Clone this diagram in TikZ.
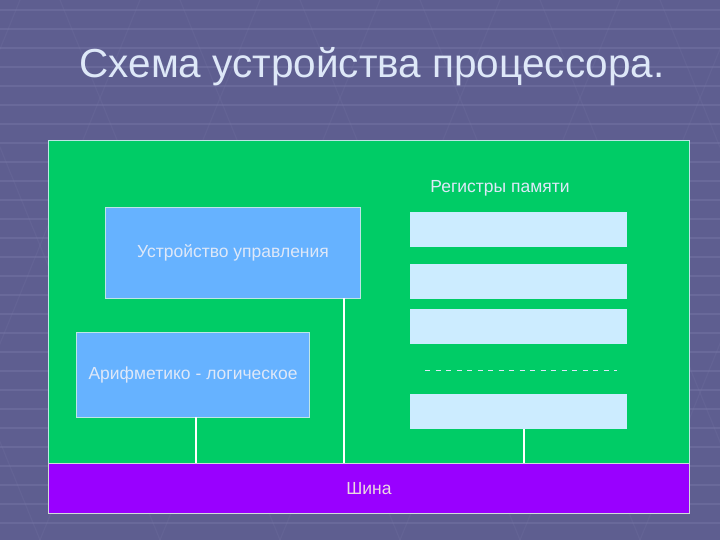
\documentclass[tikz,border=0pt]{standalone}
\usepackage{fontspec}
\setmainfont{Liberation Sans}
\definecolor{bgc}{RGB}{94,94,144}
\definecolor{bgl}{RGB}{120,120,168}
\definecolor{panel}{RGB}{0,204,102}
\definecolor{ublue}{RGB}{102,178,255}
\definecolor{reg}{RGB}{204,236,255}
\definecolor{bus}{RGB}{153,0,255}
\definecolor{ttl}{RGB}{222,232,248}
\definecolor{edge}{RGB}{190,230,230}
\tikzset{
  lbl/.style={text=ttl, font=\fontsize{17.5}{20}\selectfont},
  blk/.style={lbl, draw=edge, line width=1pt, fill=ublue, inner sep=0pt},
  regbox/.style={fill=reg, draw=none, inner sep=0pt, minimum width=217pt, minimum height=35pt},
  wire/.style={draw=white, line width=2pt}
}
\begin{document}
\begin{tikzpicture}[x=1pt,y=-1pt]
\fill[bgc] (0,0) rectangle (720,540);
\useasboundingbox (0,0) rectangle (720,540);
% background texture
\foreach \yy in {10,29,...,540} {\draw[bgl, line width=1.2pt, opacity=0.45] (0,\yy) -- (720,\yy);}
\foreach \xx in {-300,-180,...,900} {\draw[bgl, line width=1.2pt, opacity=0.2] (\xx,0) -- (\xx+220,540);}
\foreach \xx in {-100,20,...,1100} {\draw[bgl, line width=1.2pt, opacity=0.2] (\xx,0) -- (\xx-220,540);}
% title
\node[text=ttl, font=\fontsize{40.5}{46}\selectfont] (title) at (372,67) {Схема устройства процессора.};
% panel
\node[draw=edge, line width=1pt, fill=panel, minimum width=641pt, minimum height=323pt, inner sep=0pt, anchor=north west] (panel) at (48,140) {};
\node[draw=edge!70!pink, line width=1pt, fill=bus, minimum width=641pt, minimum height=50pt, inner sep=0pt, anchor=north west, lbl, text=ttl!60!pink] (bus) at (48,463) {Шина};
% blocks
\node[blk, minimum width=255pt, minimum height=91pt, anchor=north west] (cu) at (105,207) {Устройство управления};
\node[blk, minimum width=233pt, minimum height=85pt, anchor=north west] (alu) at (76,332) {Арифметико - логическое};
\node[lbl] (reglbl) at (500,188) {Регистры памяти};
\node[regbox, anchor=north west] (r1) at (410,212) {};
\node[regbox, anchor=north west] (r2) at (410,264) {};
\node[regbox, anchor=north west] (r3) at (410,309) {};
\node[regbox, anchor=north west] (r4) at (410,394) {};
\coordinate (dl) at (425,370);
\coordinate (dr) at (617,370);
\draw[ttl, line width=1pt, dash pattern=on 5pt off 5.5pt] (dl) -- (dr);
% wires
\coordinate (aluw) at (196,417);
\draw[wire] (aluw) -- (aluw |- bus.north);
\coordinate (cuw) at (344,298);
\draw[wire] (cuw) -- (cuw |- bus.north);
\coordinate (rw) at (524,429);
\draw[wire] (rw) -- (rw |- bus.north);
\end{tikzpicture}
\end{document}
